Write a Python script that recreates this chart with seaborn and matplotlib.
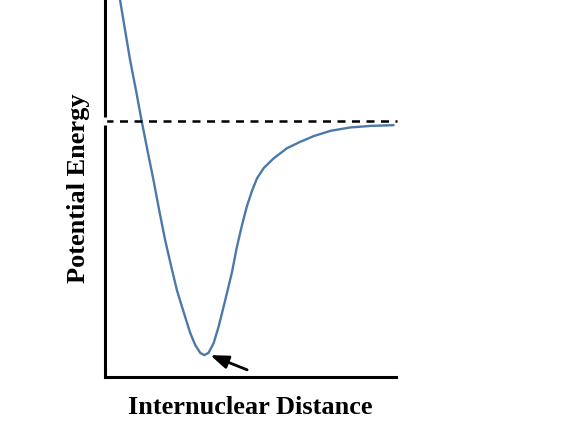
import numpy as np
import pandas as pd
import matplotlib
matplotlib.use("Agg")
import matplotlib.pyplot as plt
import seaborn as sns

# Curve (arbitrary units)
distance = [0.483, 0.517, 0.690, 0.862, 1.069, 1.266, 1.466, 1.666, 1.862, 2.069,
            2.276, 2.472, 2.586, 2.759, 2.931, 3.103, 3.276, 3.414, 3.562, 3.734,
            3.907, 4.079, 4.197, 4.369, 4.541, 4.714, 4.886, 5.069, 5.231, 5.459,
            5.803, 6.266, 6.724, 7.183, 7.759, 8.448, 9.138, 9.931]
energy = [101.3, 100.0, 92.0, 84.1, 75.9, 67.7, 59.9, 52.3, 44.3, 36.3,
          29.4, 23.1, 20.2, 15.9, 11.7, 8.5, 6.4, 5.8, 6.4, 8.9,
          13.3, 18.6, 22.3, 27.8, 34.6, 40.3, 45.4, 49.6, 52.7, 55.4,
          58.0, 60.7, 62.4, 63.9, 65.3, 66.2, 66.6, 66.8]
dissociation_level = 68.0
arrow_head = (3.62, 5.8)
arrow_tail = (4.89, 1.9)
x_label = "Internuclear Distance"
y_label = "Potential Energy"

sns.set_theme(style="white")
plt.rcParams['font.family'] = ['Liberation Serif', 'DejaVu Serif']
plt.rcParams['text.color'] = 'black'
plt.rcParams['axes.labelcolor'] = 'black'

fig = plt.figure(figsize=(5.68, 4.48), dpi=100)
ax = fig.add_axes([0.1849, 0.1585, 0.6965 - 0.1849, 1 - 0.1585])

df = pd.DataFrame({"d": distance, "e": energy})
sns.lineplot(data=df, x="d", y="e", ax=ax, color="#4b79a9", linewidth=1.7,
             estimator=None, sort=False, solid_joinstyle="round",
             solid_capstyle="round")

ax.plot([0, 10.05], [dissociation_level, dissociation_level], color="black",
        linestyle=(0, (3.2, 2.6)), linewidth=1.8, clip_on=False, zorder=3)
ax.plot([0], [dissociation_level], marker="|", color="white", markersize=6,
        markeredgewidth=2.4, clip_on=False, zorder=4)

ax.annotate("", xy=arrow_head, xytext=arrow_tail,
            arrowprops=dict(arrowstyle="-|>,head_length=0.9,head_width=0.33",
                            color="black", lw=2.0, shrinkA=0, shrinkB=0))

ax.set_xlim(0, 10)
ax.set_ylim(0, 100)
ax.set_xticks([])
ax.set_yticks([])
ax.set_xlabel(x_label, fontsize=19, fontweight="bold", labelpad=14)
ax.set_ylabel(y_label, fontsize=19, fontweight="bold", labelpad=11)
for s in ["top", "right"]:
    ax.spines[s].set_visible(False)
for s in ["left", "bottom"]:
    ax.spines[s].set_color("black")
    ax.spines[s].set_linewidth(2.2)

fig.savefig("out.png", dpi=100)
